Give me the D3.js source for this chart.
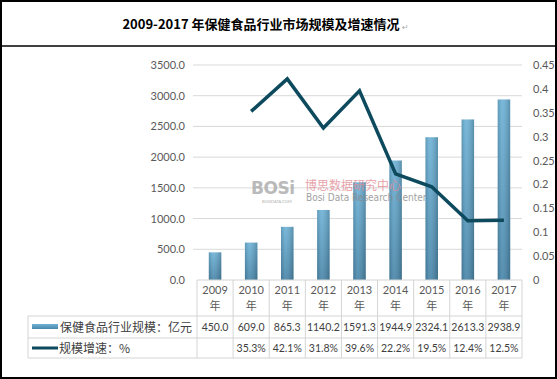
<!DOCTYPE html>
<html><head><meta charset="utf-8">
<script src="https://cdn.jsdelivr.net/npm/d3@7"></script>
<style>html,body{margin:0;padding:0;background:#fff;}svg{display:block;}</style>
</head><body>
<svg id="c" width="557" height="379"></svg>
<script>
const years = ["2009","2010","2011","2012","2013","2014","2015","2016","2017"];
const scale = [450.0, 609.0, 865.3, 1140.2, 1591.3, 1944.9, 2324.1, 2613.3, 2938.9];
const growth = [null, 0.353, 0.421, 0.318, 0.396, 0.222, 0.195, 0.124, 0.125];
const growthLabels = ["", "35.3%", "42.1%", "31.8%", "39.6%", "22.2%", "19.5%", "12.4%", "12.5%"];
const leftTicks = [0, 500, 1000, 1500, 2000, 2500, 3000, 3500];
const rightTicks = [0, 0.05, 0.1, 0.15, 0.2, 0.25, 0.3, 0.35, 0.4, 0.45];
const title = "2009-2017 年保健食品行业市场规模及增速情况";
const seriesNames = ["保健食品行业规模：亿元", "规模增速：%"];

const svg = d3.select("#c");
const font = "Lato, 'Noto Sans CJK SC', sans-serif";
const cjk = "'Noto Sans CJK SC', sans-serif";

// frames
svg.append("rect").attr("x",1).attr("y",1).attr("width",555).attr("height",377)
  .attr("fill","#fff").attr("stroke","#000").attr("stroke-width",2);
svg.append("line").attr("x1",1).attr("x2",556).attr("y1",46).attr("y2",46)
  .attr("stroke","#000").attr("stroke-width",1.5);

// title
svg.append("text").attr("x",261).attr("y",29).attr("text-anchor","middle")
  .attr("font-family",cjk).attr("font-weight","bold").attr("font-size",13).attr("fill","#000")
  .text(title);
svg.append("text").attr("x",402).attr("y",30).attr("font-size",8).attr("fill","#aaa")
  .attr("font-family","DejaVu Sans").text("↵");

const L = 197, R = 522, T = 65, B = 280;
const x = d3.scaleBand().domain(years).range([L, R]);
const y = d3.scaleLinear().domain([0, 3500]).range([B, T]);
const y2 = d3.scaleLinear().domain([0, 0.45]).range([B, T]);

// gridlines
svg.append("g").selectAll("line").data(leftTicks.filter(d=>d>0)).join("line")
  .attr("x1", L-4).attr("x2", R).attr("y1", d=>y(d)).attr("y2", d=>y(d))
  .attr("stroke","#d9d9d9").attr("stroke-width",1);

// left axis labels
const la = d3.axisLeft(y).tickValues(leftTicks).tickFormat(d3.format(".1f")).tickSize(0).tickPadding(12);
const gl = svg.append("g").attr("transform",`translate(${L},0)`).call(la);
gl.select(".domain").remove();
gl.selectAll("text").attr("font-family",font).attr("font-size",11).attr("fill","#595959");

// right axis labels
const ra = d3.axisRight(y2).tickValues(rightTicks).tickFormat(d=>d3.format("~g")(+d.toFixed(2))).tickSize(0).tickPadding(11);
const gr = svg.append("g").attr("transform",`translate(${R},0)`).call(ra);
gr.select(".domain").remove();
gr.selectAll("text").attr("font-family",font).attr("font-size",11).attr("fill","#595959");

// gradient
const defs = svg.append("defs");
const g1 = defs.append("linearGradient").attr("id","bg").attr("x1",0).attr("x2",0).attr("y1",0).attr("y2",1);
g1.append("stop").attr("offset","0%").attr("stop-color","#6fb3d7");
g1.append("stop").attr("offset","100%").attr("stop-color","#4a87aa");
const g2 = defs.append("linearGradient").attr("id","bh").attr("x1",0).attr("x2",1).attr("y1",0).attr("y2",0);
g2.append("stop").attr("offset","0%").attr("stop-color","#000").attr("stop-opacity",0.15);
g2.append("stop").attr("offset","35%").attr("stop-color","#fff").attr("stop-opacity",0.08);
g2.append("stop").attr("offset","100%").attr("stop-color","#000").attr("stop-opacity",0.2);

const bw = 12.5;
const bars = svg.append("g");
bars.selectAll("rect.b").data(scale).join("rect").attr("class","b")
  .attr("x",(d,i)=>x(years[i])+x.bandwidth()/2-bw/2).attr("width",bw)
  .attr("y",d=>y(d)).attr("height",d=>B-y(d)).attr("fill","url(#bg)");
bars.selectAll("rect.s").data(scale).join("rect").attr("class","s")
  .attr("x",(d,i)=>x(years[i])+x.bandwidth()/2-bw/2).attr("width",bw)
  .attr("y",d=>y(d)).attr("height",d=>B-y(d)).attr("fill","url(#bh)");

// watermark
const wm = svg.append("g").attr("opacity",0.8);
wm.append("text").attr("x",251).attr("y",194).attr("font-family","'DejaVu Sans'").attr("font-weight","bold")
  .attr("font-size",17).attr("fill","#a9a9a9").attr("letter-spacing",-0.5).text("BOSi");
wm.append("text").attr("x",262).attr("y",203).attr("font-family","Lato").attr("font-size",4)
  .attr("fill","#999").text("BOSIDATA.COM");
wm.append("text").attr("x",305).attr("y",190).attr("font-family",cjk).attr("font-size",12)
  .attr("fill","#e38c96").text("博思数据研究中心");
wm.append("text").attr("x",306).attr("y",201).attr("font-family","'DejaVu Sans Condensed', Lato").attr("font-size",10)
  .attr("fill","#8a8a8a").text("Bosi Data Research Center");

// line
const line = d3.line().defined(d=>d!=null)
  .x((d,i)=>x(years[i])+x.bandwidth()/2).y(d=>y2(d));
svg.append("path").datum(growth).attr("d",line).attr("fill","none")
  .attr("stroke","#0e4a5e").attr("stroke-width",3.5).attr("stroke-linejoin","miter");

// table
const tb = svg.append("g");
const gridC = "#d4d4d4";
const rH = [280, 316, 338, 358];
const TL = 28;
tb.append("line").attr("x1",L).attr("x2",R).attr("y1",rH[0]).attr("y2",rH[0]).attr("stroke",gridC);
[rH[1], rH[2], rH[3]].forEach(yy=>{
  tb.append("line").attr("x1",TL).attr("x2",R).attr("y1",yy).attr("y2",yy).attr("stroke",gridC);
});
tb.append("line").attr("x1",TL).attr("x2",TL).attr("y1",rH[1]).attr("y2",rH[3]).attr("stroke",gridC);
const vx = years.map(d=>x(d)).concat([R]);
tb.selectAll("line.v").data(vx).join("line").attr("class","v")
  .attr("x1",d=>d).attr("x2",d=>d).attr("y1",rH[0]).attr("y2",rH[3]).attr("stroke",gridC);

tb.selectAll("text.yr").data(years).join("text").attr("class","yr")
  .attr("x",d=>x(d)+x.bandwidth()/2).attr("y",294).attr("text-anchor","middle")
  .attr("font-family",font).attr("font-size",11).attr("fill","#595959").text(d=>d);
tb.selectAll("text.nian").data(years).join("text").attr("class","nian")
  .attr("x",d=>x(d)+x.bandwidth()/2).attr("y",310).attr("text-anchor","middle")
  .attr("font-family",cjk).attr("font-size",11).attr("fill","#595959").text("年");

tb.selectAll("text.v1").data(scale).join("text").attr("class","v1")
  .attr("x",(d,i)=>x(years[i])+x.bandwidth()/2).attr("y",331).attr("text-anchor","middle")
  .attr("font-family",font).attr("font-size",10.5).attr("fill","#404040").text(d=>d3.format(".1f")(d));
tb.selectAll("text.v2").data(growthLabels).join("text").attr("class","v2")
  .attr("x",(d,i)=>x(years[i])+x.bandwidth()/2).attr("y",352).attr("text-anchor","middle")
  .attr("font-family",font).attr("font-size",10.5).attr("fill","#404040").text(d=>d);

tb.append("rect").attr("x",32).attr("y",324).attr("width",26).attr("height",5).attr("fill","url(#bg)");
tb.append("line").attr("x1",32).attr("x2",58).attr("y1",348).attr("y2",348)
  .attr("stroke","#0e4a5e").attr("stroke-width",3);
tb.append("text").attr("x",60).attr("y",331.5).attr("font-family",cjk).attr("font-size",12)
  .attr("fill","#404040").text(seriesNames[0]);
tb.append("text").attr("x",59).attr("y",352.5).attr("font-family",cjk).attr("font-size",12)
  .attr("fill","#404040").text(seriesNames[1]);
</script>
</body></html>
